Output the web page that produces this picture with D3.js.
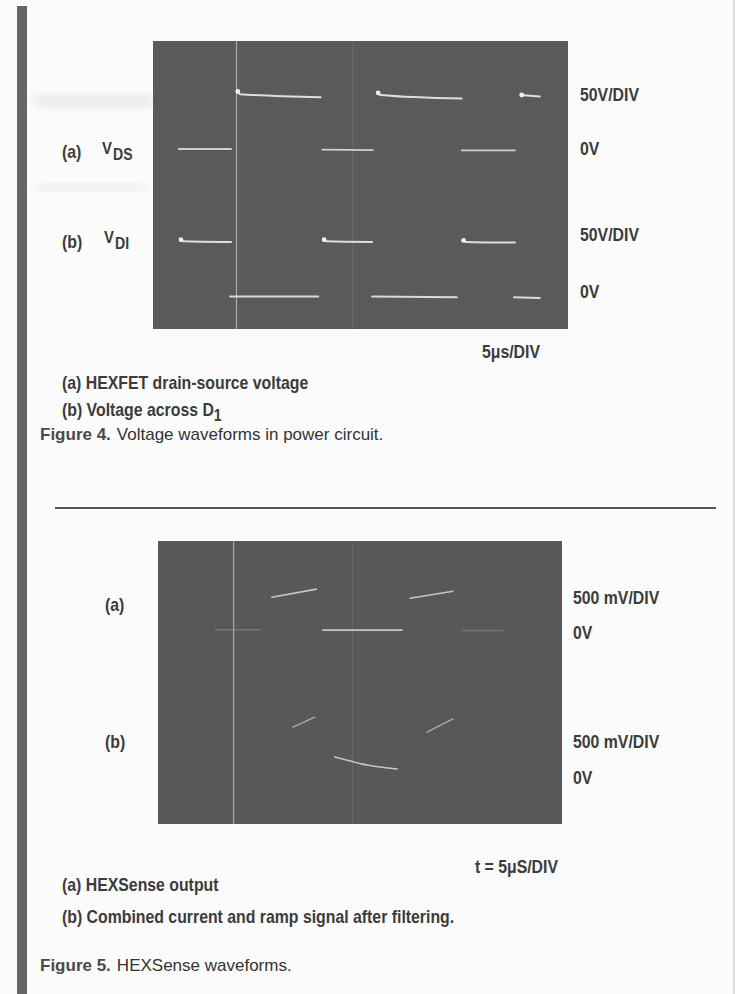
<!DOCTYPE html>
<html>
<head>
<meta charset="utf-8">
<script src="https://cdn.jsdelivr.net/npm/d3@7/dist/d3.min.js"></script>
<style>
  html, body { margin: 0; padding: 0; background: #fbfbfb; }
  svg { display: block; }
  .narrow { font-family: "Liberation Sans", Arial, sans-serif; font-weight: bold; }
  .wide { font-family: "Liberation Sans", Arial, sans-serif; }
</style>
</head>
<body>
<svg id="chart" width="735" height="994"></svg>
<script>
// ---------------- DATA ----------------
// Figure 4: time in microseconds (5 us/div, 10 div), voltage in volts (50 V/div)
const fig4VdsHigh = [
  [[10.1, 80], [10.5, 76], [20.2, 72]],
  [[27.0, 78], [27.4, 75], [37.2, 70]],
  [[44.3, 75], [46.6, 73]]
];
const fig4VdsLow = [
  [[3.1, 0], [9.4, 0]],
  [[20.4, -1], [26.5, -1.5]],
  [[37.2, -2], [43.6, -2]]
];
const fig4VdiHigh = [
  [[3.25, 79], [3.6, 77], [9.4, 76]],
  [[20.5, 79], [20.9, 77], [26.4, 76]],
  [[37.3, 78], [37.7, 76], [43.6, 75]]
];
const fig4VdiLow = [
  [[9.3, 0], [19.9, 0]],
  [[26.4, 0], [36.6, -1]],
  [[43.5, -1], [46.6, -2]]
];
const fig4Markers = [10, 24];                       // faint vertical graticule traces (us)
const fig4RightLabels = ["50V/DIV", "0V", "50V/DIV", "0V"];
const fig4RightLabelDivs = [6.5, 5.0, 2.62, 1.03];
const fig4TimeLabel = "5\u03bcs/DIV";

// Figure 5: time in microseconds (5 us/div), voltage in millivolts (500 mV/div)
const fig5aRamp = [
  [[14.1, 465], [19.6, 580]],
  [[31.2, 450], [36.5, 550]]
];
const fig5aFlat = [
  [[20.4, 0], [30.2, 0]]
];
const fig5aFaint = [
  [[7.1, 5], [12.6, 5]],
  [[37.6, -5], [42.7, -5]]
];
const fig5bRamp = [
  [[16.7, 720], [19.4, 860]],
  [[33.3, 650], [36.5, 835]]
];
const fig5bCurve = [
  [[21.9, 296], [23.8, 240], [25.9, 183], [29.6, 127]]
];
const fig5Markers = [9.3, 24];
const fig5RightLabels = ["500 mV/DIV", "0V", "500 mV/DIV", "0V"];
const fig5RightLabelDivs = [6.41, 5.42, 2.32, 1.30];
const fig5TimeLabel = "t = 5\u03bcS/DIV";

// ---------------- DRAWING ----------------
const SX = 0.88;          // horizontal squeeze to imitate the condensed typeface
const NSIZE = 18;
const TEXT = "#3c3c3c";
const svg = d3.select("#chart");

// faint scan bleed-through bands
const defs = svg.append("defs");
defs.append("filter").attr("id", "blur").append("feGaussianBlur").attr("stdDeviation", 5);
svg.append("rect").attr("x", 35).attr("y", 94).attr("width", 118).attr("height", 14)
  .attr("fill", "#ececec").attr("filter", "url(#blur)");
svg.append("rect").attr("x", 35).attr("y", 183).attr("width", 110).attr("height", 8)
  .attr("fill", "#efefef").attr("filter", "url(#blur)");

// left page bar
svg.append("rect").attr("x", 17).attr("y", 6).attr("width", 10).attr("height", 988).attr("fill", "#666");
// right scan edge
svg.append("line").attr("x1", 734).attr("x2", 734).attr("y1", 0).attr("y2", 994)
  .attr("stroke", "#c4c4c4").attr("stroke-width", 1);

function scope(cfg) {
  const x = d3.scaleLinear().domain([0, 50]).range([cfg.left, cfg.right]);
  const y = d3.scaleLinear().domain([0, 8]).range([cfg.bottom, cfg.top]);
  const g = svg.append("g");
  g.append("rect").attr("x", cfg.left).attr("y", cfg.top)
    .attr("width", cfg.right - cfg.left).attr("height", cfg.bottom - cfg.top)
    .attr("fill", cfg.bg);

  // faint vertical marker lines via axis
  const ax = d3.axisBottom(x).tickValues(cfg.markers).tickSize(-(cfg.bottom - cfg.top)).tickFormat("");
  const axg = g.append("g").attr("transform", `translate(0,${cfg.bottom})`).call(ax);
  axg.select(".domain").remove();
  axg.selectAll(".tick line").attr("stroke", "#cfcfcf")
    .attr("stroke-opacity", (d, i) => i === 0 ? 0.7 : 0.12).attr("stroke-width", 1.2);

  // right labels via axis
  const ar = d3.axisRight(y).tickValues(cfg.labelDivs).tickSize(0).tickPadding(cfg.labelPad / SX)
    .tickFormat((d, i) => cfg.labels[i]);
  const arg = g.append("g").attr("transform", `translate(${cfg.right},0)`).call(ar);
  arg.select(".domain").remove();
  arg.attr("font-family", null).attr("font-size", null);
  arg.selectAll("text").attr("class", "narrow").attr("font-size", NSIZE).attr("fill", TEXT)
    .attr("transform", `scale(${SX},1)`);

  return { x, y, g };
}

function drawTraces(sc, segs, zeroDiv, perDiv, stroke, width, opacity) {
  const line = d3.line()
    .x(d => sc.x(d[0]))
    .y(d => sc.y(zeroDiv + d[1] / perDiv))
    .curve(d3.curveMonotoneX);
  sc.g.append("g").selectAll("path").data(segs).join("path")
    .attr("d", line).attr("fill", "none").attr("stroke", stroke)
    .attr("stroke-width", width).attr("stroke-opacity", opacity).attr("stroke-linecap", "round");
}
function drawDots(sc, segs, zeroDiv, perDiv, r) {
  sc.g.append("g").selectAll("circle").data(segs).join("circle")
    .attr("cx", d => sc.x(d[0][0]) + 1).attr("cy", d => sc.y(zeroDiv + d[0][1] / perDiv))
    .attr("r", r).attr("fill", "#eeeeee");
}

// ----- Figure 4 -----
const s4 = scope({ left: 153, right: 568, top: 41, bottom: 329, bg: "#5a5a5a",
  markers: fig4Markers, labels: fig4RightLabels, labelDivs: fig4RightLabelDivs, labelPad: 12 });
drawTraces(s4, fig4VdsHigh, 5.0, 50, "#e6e6e6", 2, 0.95);
drawTraces(s4, fig4VdsLow, 5.0, 50, "#dddddd", 1.8, 0.9);
drawTraces(s4, fig4VdiHigh, 0.9, 50, "#e6e6e6", 2, 0.95);
drawTraces(s4, fig4VdiLow, 0.9, 50, "#e0e0e0", 2, 0.95);
drawDots(s4, fig4VdsHigh, 5.0, 50, 2.4);
drawDots(s4, fig4VdiHigh, 0.9, 50, 2.4);

// ----- Figure 5 -----
const s5 = scope({ left: 158, right: 562, top: 541, bottom: 824, bg: "#585858",
  markers: fig5Markers, labels: fig5RightLabels, labelDivs: fig5RightLabelDivs, labelPad: 11 });
drawTraces(s5, fig5aFaint, 5.48, 500, "#bfbfbf", 1.4, 0.3);
drawTraces(s5, fig5aRamp, 5.48, 500, "#d2d2d2", 1.6, 0.9);
drawTraces(s5, fig5aFlat, 5.48, 500, "#d2d2d2", 1.6, 0.9);
drawTraces(s5, fig5bRamp, 1.30, 500, "#cfcfcf", 1.4, 0.7);
drawTraces(s5, fig5bCurve, 1.30, 500, "#d2d2d2", 1.6, 0.9);

// ----- Texts -----
function ntext(x, y, str, size, anchor) {
  return svg.append("text").attr("class", "narrow")
    .attr("transform", `translate(${x},${y}) scale(${SX},1)`)
    .attr("font-size", size || NSIZE).attr("fill", TEXT)
    .attr("text-anchor", anchor || "start").text(str);
}
// Fig 4 left labels
ntext(62, 158, "(a)");
ntext(102, 154, "V", 17);
ntext(113, 160, "DS", 16);
ntext(62, 248, "(b)");
ntext(104, 243, "V", 17);
ntext(115, 249, "DI", 16);
// time label
ntext(540, 358, fig4TimeLabel, NSIZE, "end");
// captions
ntext(62, 389, "(a)  HEXFET drain-source voltage");
const t2 = ntext(62, 416, "(b)  Voltage across D");
t2.append("tspan").attr("dy", 5).attr("font-size", 16).text("1");
const c4 = svg.append("text").attr("class", "wide").attr("x", 40).attr("y", 440)
  .attr("font-size", 17).attr("fill", "#333");
c4.append("tspan").attr("font-weight", "bold").attr("fill", "#4a4a4a").text("Figure 4.");
c4.append("tspan").attr("dx", 6).text("Voltage waveforms in power circuit.");

// separator
svg.append("line").attr("x1", 55).attr("x2", 716).attr("y1", 508).attr("y2", 508)
  .attr("stroke", "#555").attr("stroke-width", 2);

// Fig 5 left labels
ntext(105, 611, "(a)");
ntext(105, 748, "(b)");
ntext(558, 873, fig5TimeLabel, NSIZE, "end");
ntext(62, 891, "(a)  HEXSense output");
ntext(62, 923, "(b)  Combined current and ramp signal after filtering.");
const c5 = svg.append("text").attr("class", "wide").attr("x", 40).attr("y", 971)
  .attr("font-size", 17).attr("fill", "#333");
c5.append("tspan").attr("font-weight", "bold").attr("fill", "#4a4a4a").text("Figure 5.");
c5.append("tspan").attr("dx", 6).text("HEXSense waveforms.");
</script>
</body>
</html>
